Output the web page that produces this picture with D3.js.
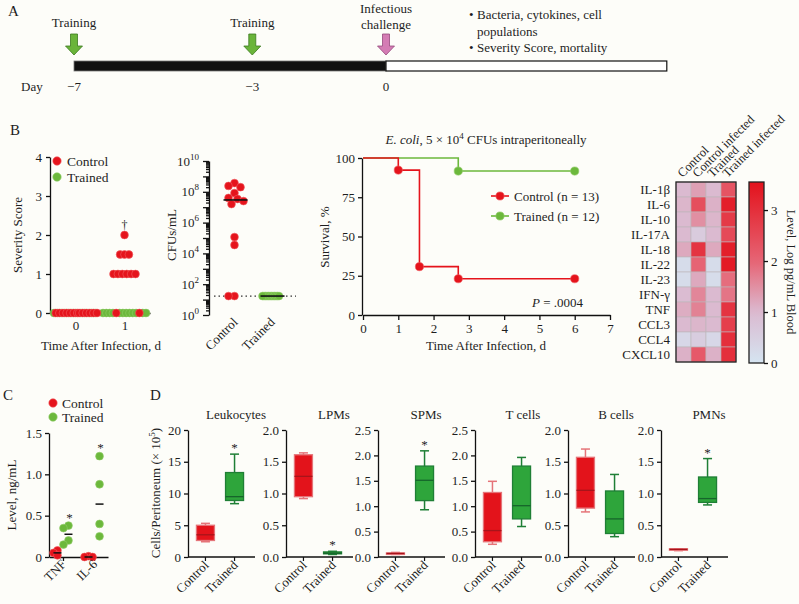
<!DOCTYPE html>
<html>
<head>
<meta charset="utf-8">
<script src="https://cdn.jsdelivr.net/npm/d3@7"></script>
<style>
  body { margin: 0; background: #fdfdf9; }
  svg { display: block; background: #fdfdf9; }
  svg text { font-family: "Liberation Serif", "DejaVu Serif", serif; }
</style>
</head>
<body>
<svg id="fig" width="799" height="604"></svg>
<script>
// ---------- data ----------

// A: timeline
var trainingDays = [-7, -3];
var challengeDay = 0;
var dayTicks = [-7, -3, 0];
var timelineEndDay = 6.3;
var followUpNotes = [["Bacteria, cytokines, cell", "populations"], ["Severity Score, mortality"]];

// B: severity score
var severityDays = [0, 1];
var severityControl = [
  [0, 0, 0, 0, 0, 0, 0, 0, 0, 0, 0, 0, 0],
  [2, 1.5, 1.5, 1.5, 1, 1, 1, 1, 1, 1, 0, 0]
];
var severityTrained = [
  [0, 0, 0, 0, 0, 0, 0, 0, 0, 0, 0, 0],
  [0, 0, 0, 0, 0, 0, 0, 0, 0, 0, 0, 0]
];

// B: bacterial load
var cfuControl = [3.7e8, 2.4e8, 2.0e8, 8.3e7, 4.0e7, 3.4e7, 2.5e7, 1.6e7, 1.15e5, 3.5e4, 17, 17];
var cfuTrained = [17, 17, 17, 17, 17, 17, 17, 17, 17, 17, 17, 17];
var cfuDetectionLimit = 17;

// B: survival
var survControlTimes = [0, 1, 1.6, 2.7, 6];
var survControlPct = [100, 92.3, 30.8, 23.1, 23.1];
var survTrainedTimes = [0, 2.7, 6];
var survTrainedPct = [100, 91.7, 91.7];
var survLegend = ["Control (n = 13)", "Trained (n = 12)"];

// B: cytokine heatmap
var cytokines = ["IL-1β", "IL-6", "IL-10", "IL-17A", "IL-18", "IL-22", "IL-23", "IFN-γ", "TNF", "CCL3", "CCL4", "CXCL10"];
var conditions = ["Control", "Control infected", "Trained", "Trained infected"];
var heatControl = [1.0, 1.05, 1.0, 1.0, 1.2, 0.2, 0.2, 0.95, 1.15, 1.0, 0.3, 1.1];
var heatControlInfected = [1.3, 2.4, 1.5, 0.6, 2.9, 2.0, 1.2, 1.6, 1.65, 1.05, 0.55, 2.2];
var heatTrained = [1.0, 1.1, 1.05, 1.0, 1.2, 0.2, 0.2, 1.0, 1.0, 1.0, 0.3, 1.1];
var heatTrainedInfected = [2.3, 3.3, 2.8, 2.5, 3.3, 3.4, 1.9, 1.8, 2.9, 2.7, 3.0, 3.0];
var heatMax = 3.55;

// C: plasma cytokines
var plasmaCytokines = ["TNF", "IL-6"];
var plasmaControl = [[0.02, 0.05, 0.08], [0, 0.01, 0]];
var plasmaTrained = [[0.15, 0.2, 0.35, 0.38], [0.25, 0.4, 0.88, 1.22]];
var plasmaSignificant = [true, true];

// D: peritoneal cell populations, [min, q1, median, q3, max]
var cellTypes = ["Leukocytes", "LPMs", "SPMs", "T cells", "B cells", "PMNs"];
var cellControl = [
  [2.4, 2.6, 3.5, 5.0, 5.3],
  [0.92, 0.95, 1.27, 1.61, 1.64],
  [0.05, 0.06, 0.07, 0.08, 0.09],
  [0.25, 0.3, 0.52, 1.27, 1.49],
  [0.71, 0.77, 1.05, 1.57, 1.7],
  [0.1, 0.11, 0.12, 0.13, 0.13]
];
var cellTrained = [
  [8.4, 8.9, 9.5, 13.3, 16.2],
  [0.04, 0.05, 0.06, 0.08, 0.09],
  [0.93, 1.11, 1.51, 1.79, 2.09],
  [0.6, 0.75, 1.01, 1.79, 1.96],
  [0.32, 0.37, 0.6, 1.04, 1.3],
  [0.82, 0.86, 0.92, 1.26, 1.55]
];
var cellAxisMax = [20, 2, 2.5, 2.5, 2, 2];
var cellAxisStep = [5, 0.5, 0.5, 0.5, 0.5, 0.5];
var cellSignificant = [true, true, true, false, false, true];

// ---------- drawing ----------

var FONT = '"Liberation Serif", "DejaVu Serif", serif';
var RED = "#e5141c";
var GREEN = "#6cb83c";
var INK = "#1e1e1e";
var groups = ["Control", "Trained"];

var svg = d3.select("#fig")
  .attr("font-family", FONT)
  .attr("fill", INK);

function label(x, y, str, size, anchor) {
  return svg.append("text")
    .attr("x", x).attr("y", y)
    .attr("font-size", size || 12.5)
    .attr("text-anchor", anchor || "start")
    .attr("fill", INK)
    .text(str);
}

function styleAxis(g, size) {
  g.attr("font-family", FONT).attr("font-size", size || 12.5);
  g.selectAll("text").attr("fill", INK);
  g.selectAll("line, path").attr("stroke", "#111").attr("stroke-width", 1.3);
  return g;
}

function rotatedLabel(x, y, str, angle, size, anchor) {
  return svg.append("text")
    .attr("transform", "translate(" + x + "," + y + ") rotate(" + angle + ")")
    .attr("font-size", size || 12.5)
    .attr("text-anchor", anchor || "middle")
    .attr("fill", INK)
    .text(str);
}

function fmtTick(d) {
  return d === 0 ? "0" : d3.format(".1f")(d);
}

// places points of equal value side by side
function spreadRow(points, cx, maxWidth, gap) {
  var n = points.length;
  var step = n > 1 ? Math.min(gap, maxWidth / (n - 1)) : 0;
  points.forEach(function(p, i) { p.x = cx + (i - (n - 1) / 2) * step; });
}

// simple beeswarm: try offsets 0, +s, -s, +2s ... until clear of placed points
function swarm(values, yScale, cx, minDist, s) {
  var placed = [];
  values.slice().sort(function(a, b) { return b - a; }).forEach(function(v) {
    var y = yScale(v);
    for (var k = 0; k < 60; k++) {
      var off = (k % 2 === 0 ? 1 : -1) * Math.ceil(k / 2) * s;
      var ok = placed.every(function(p) {
        return Math.hypot(p.x - (cx + off), p.y - y) >= minDist;
      });
      if (ok) { placed.push({ v: v, x: cx + off, y: y }); break; }
    }
  });
  return placed;
}

function dots(pts, color, r) {
  svg.append("g").selectAll("circle")
    .data(pts).join("circle")
    .attr("cx", function(d) { return d.x; })
    .attr("cy", function(d) { return d.y; })
    .attr("r", r || 3.9)
    .attr("fill", color)
    .attr("stroke", color === RED ? "#f05a5f" : "#8fcb65")
    .attr("stroke-width", 0.6);
}

// ===== A: timeline =====
var dayX = d3.scaleLinear().domain([-7, 0]).range([74, 386]);

label(8, 16, "A", 15);

function arrow(cx, top, bottom, fill, stroke) {
  var p = d3.path();
  p.moveTo(cx - 3.5, top); p.lineTo(cx + 3.5, top); p.lineTo(cx + 3.5, bottom - 9);
  p.lineTo(cx + 8.5, bottom - 9); p.lineTo(cx, bottom); p.lineTo(cx - 8.5, bottom - 9);
  p.lineTo(cx - 3.5, bottom - 9); p.closePath();
  svg.append("path").attr("d", p.toString()).attr("fill", fill)
    .attr("stroke", stroke).attr("stroke-width", 0.8);
}

trainingDays.forEach(function(d) {
  label(dayX(d), 27, "Training", 13, "middle");
  arrow(dayX(d), 34, 55, "#6ab43a", "#3b7a1f");
});
label(dayX(challengeDay), 13, "Infectious", 13, "middle");
label(dayX(challengeDay), 29, "challenge", 13, "middle");
arrow(dayX(challengeDay), 34, 55, "#d47cb4", "#96497c");

svg.append("rect")
  .attr("x", dayX(-7)).attr("y", 61)
  .attr("width", dayX(challengeDay) - dayX(-7)).attr("height", 10)
  .attr("fill", "#111").attr("stroke", "#777").attr("stroke-width", 0.8);
svg.append("rect")
  .attr("x", dayX(challengeDay)).attr("y", 61)
  .attr("width", dayX(timelineEndDay) - dayX(challengeDay)).attr("height", 10)
  .attr("fill", "#fff").attr("stroke", "#111").attr("stroke-width", 1.2);

label(21, 91, "Day", 13);
dayTicks.forEach(function(d) {
  label(dayX(d), 91, d < 0 ? "\u2212" + Math.abs(d) : String(d), 13, "middle");
});

var noteY = 19;
followUpNotes.forEach(function(lines) {
  label(469, noteY, "\u2022", 13);
  lines.forEach(function(ln) {
    label(477, noteY, ln, 13);
    noteY += 16.5;
  });
});

// ===== B: severity score =====
label(10, 135, "B", 15);

var sevY = d3.scaleLinear().domain([0, 4]).range([313, 157]);
var sevX = d3.scalePoint().domain(severityDays).range([50, 150]).padding(0.52);

styleAxis(svg.append("g").attr("transform", "translate(50,0)")
  .call(d3.axisLeft(sevY).tickValues([0, 1, 2, 3, 4]).tickFormat(d3.format("d"))
    .tickSize(4).tickSizeOuter(0).tickPadding(4)), 13);
styleAxis(svg.append("g").attr("transform", "translate(0,313)")
  .call(d3.axisBottom(sevX).tickSize(4).tickSizeOuter(0).tickPadding(4)), 13);

rotatedLabel(22, 235, "Severity Score", -90, 13);
label(101, 350, "Time After Infection, d", 13, "middle");

var sevGreen = [], sevRed = [];
severityDays.forEach(function(day, di) {
  var levels = d3.union(severityControl[di], severityTrained[di]);
  levels.forEach(function(v) {
    var nC = severityControl[di].filter(function(x) { return x === v; }).length;
    var nT = severityTrained[di].filter(function(x) { return x === v; }).length;
    var n = nC + nT;
    var cells = d3.range(n).map(function() { return { v: v, c: "T" }; });
    for (var j = 0; j < nC; j++) {
      cells[Math.min(n - 1, Math.round((j + 0.5) * n / nC))].c = "C";
    }
    // fix count if rounding collided
    var have = cells.filter(function(c) { return c.c === "C"; }).length;
    for (var k = 0; have < nC && k < n; k++) { if (cells[k].c === "T") { cells[k].c = "C"; have++; } }
    spreadRow(cells, sevX(day), 43, 4.4);
    cells.forEach(function(c) {
      c.y = sevY(v);
      (c.c === "C" ? sevRed : sevGreen).push(c);
    });
  });
});
dots(sevGreen, GREEN);
dots(sevRed, RED);
label(sevX(1), sevY(d3.max(severityControl[1])) - 6, "\u2020", 12, "middle");

// legend
[["Control", RED], ["Trained", GREEN]].forEach(function(l, i) {
  dots([{ x: 57, y: 161 + i * 16 }], l[1], 4.2);
  label(67, 165.5 + i * 16, l[0], 13.5);
});

// ===== B: CFUs =====
var cfuY = d3.scaleLog().domain([1, 1e10]).range([315, 161]);
var cfuX = d3.scalePoint().domain(groups).range([216, 290]).padding(0.5);

var cfuTicks = [];
for (var e = 0; e < 10; e++) for (var m = 1; m < 10; m++) cfuTicks.push(m * Math.pow(10, e));
cfuTicks.push(1e10);
function isPow(d) { var l = Math.log10(d); return Math.abs(l - Math.round(l)) < 1e-9; }

var cfuAxis = styleAxis(svg.append("g").attr("transform", "translate(209,0)")
  .call(d3.axisLeft(cfuY).tickValues(cfuTicks).tickSize(3).tickSizeOuter(0).tickPadding(7)), 13);
cfuAxis.selectAll(".tick line").attr("x2", function(d) { return isPow(d) ? -6 : -3; });
cfuAxis.selectAll(".tick text").each(function(d) {
  var t = d3.select(this);
  var ex = Math.round(Math.log10(d));
  if (isPow(d) && ex % 2 === 0) {
    t.text("10");
    t.append("tspan").attr("dy", -6).attr("font-size", 9).text(ex);
  } else {
    t.text("");
  }
});
rotatedLabel(176, 235, "CFUs/mL", -90, 13);

svg.append("line")
  .attr("x1", 214).attr("x2", 296)
  .attr("y1", cfuY(cfuDetectionLimit)).attr("y2", cfuY(cfuDetectionLimit))
  .attr("stroke", "#333").attr("stroke-width", 1.2).attr("stroke-dasharray", "1.5,3");

dots(swarm(cfuTrained, cfuY, cfuX("Trained"), 1.5, 1.5), GREEN);
dots(swarm(cfuControl, cfuY, cfuX("Control"), 6, 3), RED);
[cfuControl, cfuTrained].forEach(function(vals, i) {
  var med = d3.median(vals);
  svg.append("line")
    .attr("x1", cfuX(groups[i]) - 11).attr("x2", cfuX(groups[i]) + 13)
    .attr("y1", cfuY(med)).attr("y2", cfuY(med))
    .attr("stroke", "#111").attr("stroke-width", 1.6);
});
groups.forEach(function(g) {
  rotatedLabel(cfuX(g) + 4, 323, g, -45, 13, "end");
});

// ===== B: survival =====
var survX = d3.scaleLinear().domain([0, 7]).range([363, 610]);
var survY = d3.scaleLinear().domain([0, 100]).range([315, 158]);

styleAxis(svg.append("g").attr("transform", "translate(0,315)")
  .call(d3.axisBottom(survX).ticks(7).tickSize(5).tickSizeOuter(0).tickPadding(4)), 13);
styleAxis(svg.append("g").attr("transform", "translate(362,0)")
  .call(d3.axisLeft(survY).tickValues([0, 25, 50, 75, 100]).tickSize(4).tickSizeOuter(0).tickPadding(3)), 13);

var title = svg.append("text").attr("x", 486).attr("y", 144)
  .attr("text-anchor", "middle").attr("font-size", 13).attr("fill", INK);
title.append("tspan").attr("font-style", "italic").text("E. coli");
title.append("tspan").text(", 5 \u00d7 10");
title.append("tspan").attr("dy", -5).attr("font-size", 9).text("4");
title.append("tspan").attr("dy", 5).text(" CFUs intraperitoneally");

rotatedLabel(329, 237, "Survival, %", -90, 13);
label(486, 350, "Time After Infection, d", 13, "middle");

var stepLine = d3.line()
  .x(function(d) { return survX(d[0]); })
  .y(function(d) { return survY(d[1]); })
  .curve(d3.curveStepAfter);

[[survTrainedTimes, survTrainedPct, GREEN], [survControlTimes, survControlPct, RED]].forEach(function(s) {
  var pts = d3.zip(s[0], s[1]);
  svg.append("path").attr("d", stepLine(pts)).attr("fill", "none")
    .attr("stroke", s[2]).attr("stroke-width", 1.6);
  dots(pts.slice(1).map(function(p) { return { x: survX(p[0]), y: survY(p[1]) }; }), s[2], 4.1);
});

[[survLegend[0], RED], [survLegend[1], GREEN]].forEach(function(l, i) {
  var y = 196 + i * 20;
  svg.append("line").attr("x1", 491).attr("x2", 509).attr("y1", y).attr("y2", y)
    .attr("stroke", l[1]).attr("stroke-width", 1.6);
  dots([{ x: 500, y: y }], l[1], 4.1);
  label(514, y + 4.5, l[0], 13);
});

var pLab = svg.append("text").attr("x", 583).attr("y", 307)
  .attr("text-anchor", "end").attr("font-size", 13).attr("fill", INK);
pLab.append("tspan").attr("font-style", "italic").text("P");
pLab.append("tspan").text(" = .0004");

// ===== B: heatmap =====
var heatX = d3.scaleBand().domain(conditions).range([676, 736]);
var heatY = d3.scaleBand().domain(cytokines).range([182, 362]);
var heatColor = d3.scaleLinear()
  .domain([0, 1, 2, heatMax])
  .range(["#d5e4f1", "#dbbad0", "#e66474", "#e3121c"]);
var heatCols = [heatControl, heatControlInfected, heatTrained, heatTrainedInfected];

var cells = [];
heatCols.forEach(function(col, ci) {
  col.forEach(function(v, ri) { cells.push({ c: conditions[ci], r: cytokines[ri], v: v }); });
});
svg.append("g").selectAll("rect").data(cells).join("rect")
  .attr("x", function(d) { return heatX(d.c); })
  .attr("y", function(d) { return heatY(d.r); })
  .attr("width", heatX.bandwidth()).attr("height", heatY.bandwidth())
  .attr("fill", function(d) { return heatColor(d.v); })
  .attr("stroke", "#bdb6ba").attr("stroke-width", 0.6);
svg.append("rect").attr("x", 676).attr("y", 182).attr("width", 60).attr("height", 180)
  .attr("fill", "none").attr("stroke", "#222").attr("stroke-width", 1.3);

cytokines.forEach(function(c) {
  label(670, heatY(c) + heatY.bandwidth() / 2 + 4.5, c, 13, "end");
});
conditions.forEach(function(c) {
  rotatedLabel(heatX(c) + heatX.bandwidth() / 2 - 1, 178, c, -45, 12.5, "start");
});

// colour bar
var cbY = d3.scaleLinear().domain([0, heatMax]).range([363, 182]);
var grad = svg.append("defs").append("linearGradient")
  .attr("id", "cbar").attr("x1", 0).attr("y1", 1).attr("x2", 0).attr("y2", 0);
d3.range(0, 1.0001, 0.05).forEach(function(t) {
  grad.append("stop").attr("offset", t).attr("stop-color", heatColor(t * heatMax));
});
svg.append("rect").attr("x", 749).attr("y", 182).attr("width", 15).attr("height", 181)
  .attr("fill", "url(#cbar)").attr("stroke", "#222").attr("stroke-width", 1.3);
styleAxis(svg.append("g").attr("transform", "translate(764,0)")
  .call(d3.axisRight(cbY).tickValues([0, 1, 2, 3]).tickFormat(d3.format("d"))
    .tickSize(4).tickSizeOuter(0).tickPadding(3)), 13)
  .select(".domain").remove();
rotatedLabel(787, 272, "Level, Log pg/mL Blood", 90, 12.5);

// ===== C: plasma cytokines =====
label(3, 400, "C", 15);
[["Control", RED], ["Trained", GREEN]].forEach(function(l, i) {
  dots([{ x: 53, y: 403 + i * 14 }], l[1], 4.2);
  label(62, 407.5 + i * 14, l[0], 13.5);
});

var cY = d3.scaleLinear().domain([0, 1.5]).range([557, 433]);
var cX = d3.scalePoint().domain(plasmaCytokines).range([49, 108]).padding(0.45);

styleAxis(svg.append("g").attr("transform", "translate(49,0)")
  .call(d3.axisLeft(cY).tickValues([0, 0.5, 1, 1.5]).tickFormat(fmtTick).tickSize(4).tickSizeOuter(0).tickPadding(3)), 13);
styleAxis(svg.append("g").attr("transform", "translate(0,557)")
  .call(d3.axisBottom(cX).tickSize(4).tickSizeOuter(0).tickFormat("")), 13);
rotatedLabel(16, 495, "Level, ng/mL", -90, 13);

plasmaCytokines.forEach(function(c, i) {
  var xc = cX(c) - 5.5, xt = cX(c) + 5.5;
  dots(swarm(plasmaControl[i], cY, xc, 3.5, 2), RED);
  dots(swarm(plasmaTrained[i], cY, xt, 5, 2.5), GREEN);
  [[xc, plasmaControl[i]], [xt, plasmaTrained[i]]].forEach(function(g) {
    var m = d3.median(g[1]);
    svg.append("line").attr("x1", g[0] - 4).attr("x2", g[0] + 4)
      .attr("y1", cY(m)).attr("y2", cY(m)).attr("stroke", "#111").attr("stroke-width", 1.5);
  });
  if (plasmaSignificant[i]) label(xt + 1, cY(d3.max(plasmaTrained[i])) - 4, "*", 13, "middle");
  rotatedLabel(cX(c) + 4, 565, c, -45, 13, "end");
});

// ===== D: cell populations =====
label(150, 400, "D", 15);
var panelDLeft = [188, 286, 378, 475, 568, 661];

var yl = svg.append("text")
  .attr("transform", "translate(160,493) rotate(-90)")
  .attr("text-anchor", "middle").attr("font-size", 13).attr("fill", INK);
yl.append("tspan").text("Cells/Peritoneum (\u00d7 10");
yl.append("tspan").attr("dy", -5).attr("font-size", 9).text("5");
yl.append("tspan").attr("dy", 5).text(")");

var boxStyle = {
  Control: { fill: "#e3131b", stroke: "#e57479", median: "#a8141a" },
  Trained: { fill: "#2ea53b", stroke: "#1f7f36", median: "#16652b" }
};

cellTypes.forEach(function(name, i) {
  var x0 = panelDLeft[i];
  var y = d3.scaleLinear().domain([0, cellAxisMax[i]]).range([557, 430]);
  var x = d3.scalePoint().domain(groups).range([x0, x0 + 64]).padding(0.6);
  var ticks = d3.range(0, cellAxisMax[i] + 1e-9, cellAxisStep[i]);

  styleAxis(svg.append("g").attr("transform", "translate(" + x0 + ",0)")
    .call(d3.axisLeft(y).tickValues(ticks)
      .tickFormat(cellAxisStep[i] >= 1 ? d3.format("d") : d3.format(".1f"))
      .tickSize(4).tickSizeOuter(0).tickPadding(3)), 13);
  svg.append("line").attr("x1", x0).attr("x2", x0 + 67).attr("y1", 557).attr("y2", 557)
    .attr("stroke", "#111").attr("stroke-width", 1.3);
  svg.append("g").selectAll("line").data(groups).join("line")
    .attr("x1", function(g) { return x(g); }).attr("x2", function(g) { return x(g); })
    .attr("y1", 557).attr("y2", 561).attr("stroke", "#111").attr("stroke-width", 1.2);

  label(x0 + 48, 419, name, 13, "middle");

  [["Control", cellControl[i]], ["Trained", cellTrained[i]]].forEach(function(b) {
    var s = boxStyle[b[0]], v = b[1], cx = x(b[0]), w = 18;
    var g = svg.append("g");
    g.append("line").attr("x1", cx).attr("x2", cx).attr("y1", y(v[0])).attr("y2", y(v[4]))
      .attr("stroke", s.stroke).attr("stroke-width", 1.5);
    [v[0], v[4]].forEach(function(val) {
      g.append("line").attr("x1", cx - 4.5).attr("x2", cx + 4.5).attr("y1", y(val)).attr("y2", y(val))
        .attr("stroke", s.stroke).attr("stroke-width", 1.5);
    });
    g.append("rect").attr("x", cx - w / 2).attr("y", y(v[3]))
      .attr("width", w).attr("height", Math.max(1.5, y(v[1]) - y(v[3])))
      .attr("fill", s.fill).attr("stroke", s.stroke).attr("stroke-width", 1.3);
    g.append("line").attr("x1", cx - w / 2).attr("x2", cx + w / 2).attr("y1", y(v[2])).attr("y2", y(v[2]))
      .attr("stroke", s.median).attr("stroke-width", 1.3);
  });

  if (cellSignificant[i]) {
    label(x("Trained"), y(cellTrained[i][4]) - 2, "*", 13, "middle");
  }
  groups.forEach(function(g) {
    rotatedLabel(x(g) + 4, 566, g, -45, 13, "end");
  });
});
</script>
</body>
</html>
